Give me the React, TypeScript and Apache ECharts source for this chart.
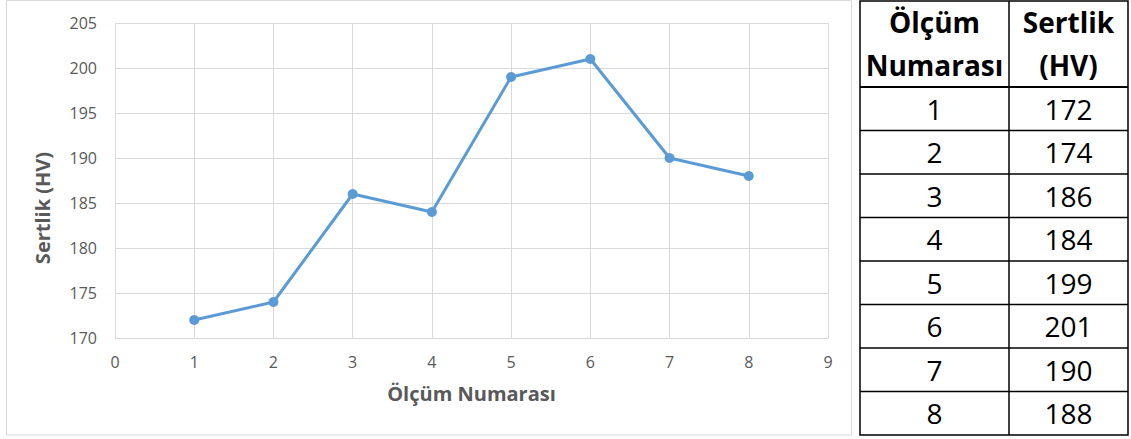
import React, { useEffect, useRef } from "react";
import * as echarts from "echarts";

const measurementNumbers = [1, 2, 3, 4, 5, 6, 7, 8];
const hardnessValues = [172, 174, 186, 184, 199, 201, 190, 188];
const xAxisTitle = "Ölçüm Numarası";
const yAxisTitle = "Sertlik (HV)";
const tableHeaderLeft = ["Ölçüm", "Numarası"];
const tableHeaderRight = ["Sertlik", "(HV)"];

const FONT = "'Open Sans', 'Noto Sans', sans-serif";

export default function App() {
  const ref = useRef<HTMLDivElement>(null);
  useEffect(() => {
    document.body.style.margin = "0";
    const chart = echarts.init(ref.current!, null, { renderer: "svg" });

    const tL = 860, tM = 1009, tR = 1128, tTop = 1, tHead = 87, tBot = 435;
    const rowH = (tBot - tHead) / measurementNumbers.length;
    const elements: any[] = [];
    // chart border
    elements.push({
      type: "rect",
      shape: { x: 6.5, y: 0.5, width: 845, height: 434.5 },
      style: { fill: "none", stroke: "#D9D9D9", lineWidth: 1 },
      silent: true,
    });
    // y axis title
    elements.push({
      type: "text",
      x: 42,
      y: 208,
      rotation: Math.PI / 2,
      style: {
        text: yAxisTitle,
        fontFamily: FONT,
        fontWeight: "bold",
        fontSize: 20,
        fill: "#595959",
        align: "center",
        verticalAlign: "middle",
      },
    });
    // table outer
    elements.push({
      type: "rect",
      shape: { x: tL, y: tTop, width: tR - tL, height: tBot - tTop },
      style: { fill: "#fff", stroke: "#000", lineWidth: 1.5 },
    });
    elements.push({
      type: "line",
      shape: { x1: tM, y1: tTop, x2: tM, y2: tBot },
      style: { stroke: "#000", lineWidth: 1.5 },
    });
    elements.push({
      type: "line",
      shape: { x1: tL, y1: tHead, x2: tR, y2: tHead },
      style: { stroke: "#000", lineWidth: 2 },
    });
    for (let i = 1; i < measurementNumbers.length; i++) {
      const y = tHead + rowH * i;
      elements.push({
        type: "line",
        shape: { x1: tL, y1: y, x2: tR, y2: y },
        style: { stroke: "#000", lineWidth: 1.5 },
      });
    }
    const headStyle = { fontFamily: FONT, fontWeight: "bold", fontSize: 28, fill: "#000", align: "center", verticalAlign: "middle" };
    tableHeaderLeft.forEach((t, i) => {
      elements.push({ type: "text", x: (tL + tM) / 2, y: 22 + i * 43, style: { ...headStyle, text: t } });
    });
    tableHeaderRight.forEach((t, i) => {
      elements.push({ type: "text", x: (tM + tR) / 2, y: 22 + i * 43, style: { ...headStyle, text: t } });
    });
    const cellStyle = { fontFamily: FONT, fontSize: 28, fill: "#000", align: "center", verticalAlign: "middle" };
    measurementNumbers.forEach((n, i) => {
      const cy = tHead + rowH * (i + 0.5);
      elements.push({ type: "text", x: (tL + tM) / 2, y: cy, style: { ...cellStyle, text: String(n) } });
      elements.push({ type: "text", x: (tM + tR) / 2, y: cy, style: { ...cellStyle, text: String(hardnessValues[i]) } });
    });

    chart.setOption({
      animation: false,
      backgroundColor: "#fff",
      grid: { left: 115, right: 303, top: 23, bottom: 101 },
      xAxis: {
        type: "value",
        min: 0,
        max: 9,
        interval: 1,
        name: xAxisTitle,
        nameLocation: "middle",
        nameGap: 45,
        nameTextStyle: { fontFamily: FONT, fontWeight: "bold", fontSize: 20, color: "#595959" },
        axisLine: { show: true, lineStyle: { color: "#D9D9D9" } },
        axisTick: { show: false },
        axisLabel: { margin: 16, fontFamily: FONT, fontSize: 16, color: "#595959" },
        splitLine: { show: true, lineStyle: { color: "#D9D9D9" } },
      },
      yAxis: {
        type: "value",
        min: 170,
        max: 205,
        interval: 5,
        axisLine: { show: false },
        axisTick: { show: false },
        axisLabel: { margin: 18, fontFamily: FONT, fontSize: 16, color: "#595959" },
        splitLine: { show: true, lineStyle: { color: "#D9D9D9" } },
      },
      series: [
        {
          type: "line",
          name: yAxisTitle,
          data: measurementNumbers.map((n, i) => [n, hardnessValues[i]]),
          symbol: "circle",
          symbolSize: 10,
          lineStyle: { color: "#5B9BD5", width: 3 },
          itemStyle: { color: "#5B9BD5" },
        },
      ],
      graphic: { elements },
    });
    return () => chart.dispose();
  }, []);
  return <div ref={ref} style={{ position: "absolute", left: 0, top: 0, width: 1131, height: 439 }} />;
}
